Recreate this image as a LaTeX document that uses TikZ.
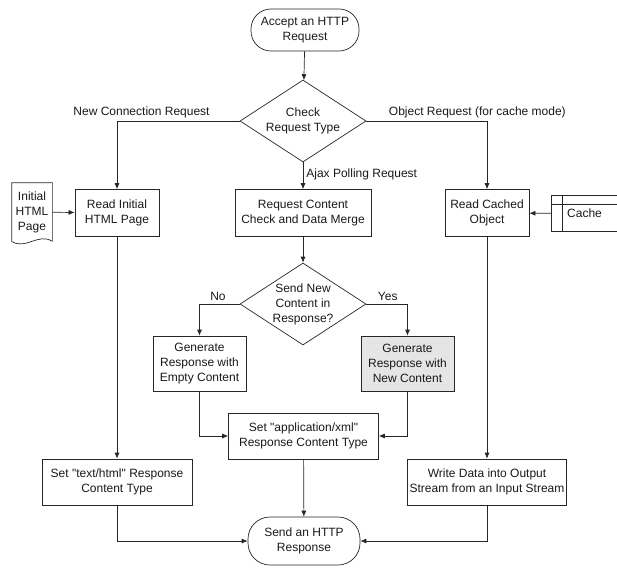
\documentclass[tikz,border=0pt]{standalone}
\usepackage{fontspec}
\newfontfamily\diagfont{Liberation Sans}
\newcommand{\flowfont}{\diagfont\fontsize{12}{15}\selectfont}
\usetikzlibrary{shapes.geometric,arrows.meta,calc}

\begin{document}
\begin{tikzpicture}[
  x=1pt, y=-1pt,
  every node/.style={font=\flowfont, text=black!90},
  proc/.style={rectangle, draw, align=center, inner sep=2pt},
  term/.style={rectangle, draw, align=center, rounded corners=20pt, minimum width=108, minimum height=42},
  decide/.style={diamond, draw, align=center, inner sep=0pt, shape aspect=1.54, minimum width=126, minimum height=82},
  arrow/.style={-{Latex[length=6pt, width=5pt]}},
  lbl/.style={inner sep=3pt},
  line width=0.7pt, draw=black!85,
]
\useasboundingbox (0,0) rectangle (617,567);

% === Top ===
\node[term] (start) at (305,30) {Accept an HTTP\\Request};
\node[decide] (check) at (303,121) {Check\\Request Type};

% === Second row ===
\node[proc, minimum width=84, minimum height=47] (readhtml) at (117,213) {Read Initial\\HTML Page};
\node[proc, minimum width=136, minimum height=47] (reqmerge) at (303,213) {Request Content\\Check and Data Merge};
\node[proc, minimum width=84, minimum height=47] (readcache) at (487,213) {Read Cached\\Object};

% document and data store
\node[align=center, minimum width=40, minimum height=58, inner sep=0pt] (docpage) at (32,212) {Initial\\HTML\\Page};
\draw (docpage.south east) -- (docpage.north east) -- (docpage.north west) -- (docpage.south west)
  .. controls ($(docpage.south west)+(14,9)$) and ($(docpage.south east)+(-14,-9)$) .. (docpage.south east);
\node[minimum width=65, minimum height=35, inner sep=0pt] (cache) at (584.5,213.5) {Cache};
\draw (cache.north east) -- (cache.north west) -- (cache.south west) -- (cache.south east);
\draw ($(cache.north west)+(11,0)$) -- ($(cache.south west)+(11,0)$);
\draw ($(cache.north west)+(0,9)$) -- ($(cache.north east)+(0,9)$);

% === Middle ===
\node[decide] (newcheck) at (303,304) {Send New\\Content in\\Response?};
\node[proc, minimum width=93, minimum height=55] (genempty) at (199.5,363.5) {Generate\\Response with\\Empty Content};
\node[proc, minimum width=93, minimum height=55, fill=black!10] (gennew) at (407.5,363.5) {Generate\\Response with\\New Content};
\node[proc, minimum width=150, minimum height=46] (setxml) at (303.5,436) {Set "application/xml"\\Response Content Type};

% === Bottom ===
\node[proc, minimum width=150, minimum height=46] (settext) at (117,482) {Set "text/html" Response\\Content Type};
\node[proc, minimum width=152, minimum height=46] (writedata) at (487,482) {Write Data into Output\\Stream from an Input Stream};
\node[term, minimum width=112, minimum height=48, rounded corners=22pt] (finish) at (304,541) {Send an HTTP\\Response};

% === Connectors ===
\draw[arrow] (start) -- (check);
\draw[arrow] (check.west) -| node[lbl, pos=0.40, above] {New Connection Request} (readhtml);
\draw[arrow] (check.east) -| node[lbl, pos=0.46, above] {Object Request (for cache mode)} (readcache);
\draw[arrow] (check) -- node[lbl, pos=0.45, right] {Ajax Polling Request} (reqmerge);
\draw[arrow] (docpage) -- (readhtml);
\draw[arrow] (cache) -- (readcache);
\draw[arrow] (reqmerge) -- (newcheck);
\draw[arrow] (newcheck.west) -| node[lbl, pos=0.27, above] {No} (genempty);
\draw[arrow] (newcheck.east) -| node[lbl, pos=0.26, above] {Yes} (gennew);
\draw[arrow] (genempty) |- (setxml);
\draw[arrow] (gennew) |- (setxml);
\draw[arrow] (setxml) -- (finish);
\draw[arrow] (readhtml) -- (settext);
\draw[arrow] (readcache) -- (writedata);
\draw[arrow] (settext) |- (finish);
\draw[arrow] (writedata) |- (finish);

\end{tikzpicture}
\end{document}
